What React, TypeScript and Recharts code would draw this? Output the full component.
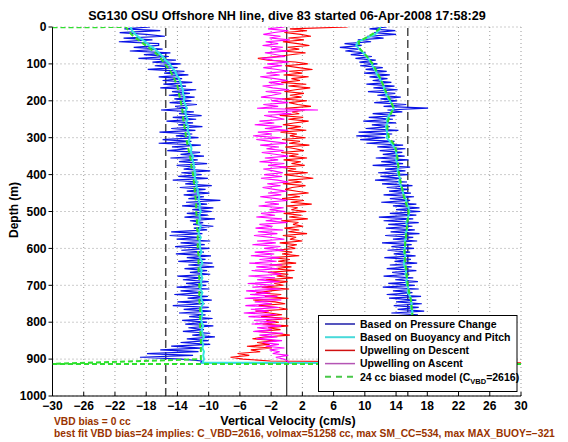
import React from "react";
import { ScatterChart, Scatter, XAxis, YAxis, CartesianGrid, ReferenceLine } from "recharts";

// depth grids (m)
const depth5 = Array.from({ length: 183 }, (_, i) => i * 5);
const depth10 = Array.from({ length: 92 }, (_, i) => i * 10);
const depth20 = Array.from({ length: 46 }, (_, i) => i * 20);

const xTicks = [-30, -26, -22, -18, -14, -10, -6, -2, 2, 6, 10, 14, 18, 22, 26, 30];
const yTicks = [0, 100, 200, 300, 400, 500, 600, 700, 800, 900, 1000];

// vertical velocity from pressure change, descent (every 5 m)
const pressureDown = [
  -17.5, -20.8, -16.2, -21.4, -18.0, -15.6, -20.9, -17.2, -21.5, -16.4,
  -16.4, -19.6, -15.9, -20.1, -14.9, -18.3, -15.1, -19.0, -14.2, -17.2,
  -13.6, -16.9, -14.0, -17.8, -13.1, -15.7, -12.6, -16.4, -13.4, -15.9,
  -12.1, -15.8, -12.9, -16.2, -11.6, -14.7, -12.4, -15.1, -11.8, -14.4,
  -12.2, -15.0, -11.5, -14.3, -12.7, -16.1, -11.9, -13.8, -10.9, -14.6,
  -11.6, -15.4, -12.0, -13.9, -10.8, -14.8, -11.7, -16.3, -12.1, -14.2,
  -11.3, -15.9, -12.2, -16.4, -11.0, -14.7, -12.6, -15.3, -11.1, -13.6,
  -10.6, -14.9, -11.4, -13.8, -10.2, -14.1, -11.7, -13.2, -9.8, -13.5,
  -10.9, -13.9, -10.1, -14.6, -11.3, -13.0, -9.6, -13.7, -10.4, -12.8,
  -9.9, -13.2, -10.6, -12.6, -8.5, -12.9, -10.2, -13.4, -9.4, -12.1,
  -9.6, -12.8, -10.1, -13.1, -9.2, -12.4, -10.7, -12.0, -9.4, -11.9,
  -10.2, -14.8, -10.8, -15.0, -11.1, -14.1, -9.8, -13.6, -10.5, -14.3,
  -9.9, -13.5, -10.6, -14.2, -9.7, -12.8, -10.4, -13.9, -9.5, -12.6,
  -9.3, -13.1, -10.2, -12.4, -9.8, -14.0, -10.9, -13.3, -10.0, -12.9,
  -10.3, -14.1, -9.9, -13.6, -10.8, -14.4, -10.1, -12.7, -9.6, -14.0,
  -10.5, -14.6, -10.0, -13.2, -9.7, -13.8, -10.4, -12.5, -9.5, -13.4,
  -10.2, -13.0, -9.4, -12.6, -10.6, -13.3, -9.8, -12.1, -9.2, -12.8,
  -10.0, -13.6, -9.8, -14.8, -10.9, -16.2, -11.3, -17.9, -12.0, -18.8,
  -13.5, -10.9, -11.0,
];

// vertical velocity from pressure change, ascent (every 5 m)
const pressureUp = [
  12.8, 10.6, 13.9, 11.2, 14.0, 10.3, 12.4, 9.1, 10.8, 7.4,
  9.6, 6.8, 9.2, 7.5, 10.1, 8.2, 10.9, 8.8, 11.4, 9.3,
  11.6, 9.4, 12.3, 10.1, 12.8, 9.9, 13.2, 10.6, 12.9, 11.0,
  13.4, 10.2, 13.8, 11.1, 14.2, 10.4, 13.9, 11.6, 14.6, 12.0,
  14.1, 11.2, 15.3, 12.4, 18.1, 12.9, 14.8, 11.0, 13.9, 10.5,
  13.6, 9.8, 14.0, 10.9, 13.2, 10.1, 14.3, 9.2, 13.5, 8.9,
  12.6, 9.4, 13.8, 10.2, 14.9, 11.6, 15.2, 11.9, 14.8, 12.3,
  15.1, 11.4, 15.6, 12.1, 14.9, 11.0, 15.8, 12.6, 15.2, 11.7,
  15.5, 12.0, 14.7, 11.3, 15.4, 12.2, 16.1, 12.8, 15.6, 13.1,
  15.9, 12.4, 16.3, 13.2, 15.8, 12.1, 16.6, 13.6, 17.0, 14.0,
  17.1, 13.2, 16.6, 11.8, 16.2, 12.4, 16.9, 13.0, 16.1, 12.7,
  16.4, 13.3, 17.0, 12.6, 16.2, 13.6, 16.7, 12.2, 16.0, 13.4,
  16.3, 12.9, 15.8, 13.7, 16.5, 12.5, 15.9, 13.8, 16.7, 13.2,
  16.0, 12.8, 16.6, 13.5, 15.7, 12.4, 16.2, 13.9, 16.8, 13.0,
  16.4, 12.3, 16.9, 13.6, 16.1, 12.8, 17.2, 13.1, 16.6, 14.0,
  17.3, 13.7, 16.9, 14.2, 17.6, 13.4, 16.8, 14.5, 17.4, 13.9,
  17.1, 14.3, 17.5, 13.8, 16.9, 14.6, 17.7, 14.1, 17.2, 14.8,
  17.6, 14.2, 17.9, 14.9, 17.3, 14.4, 18.1, 15.0, 17.5, 14.6,
  17.2, 16.0, 16.5,
];

// based on buoyancy and pitch (every 10 m)
const buoyDown = [
  -20.0, -19.8, -19.4, -18.8, -18.1, -17.6, -16.9, -16.4, -15.9, -15.5,
  -15.0, -14.7, -14.3, -14.1, -13.8, -13.6, -13.5, -13.3, -13.3, -13.1,
  -13.2, -13.0, -12.8, -13.0, -12.9, -12.7, -12.9, -12.6, -12.7, -12.5,
  -12.4, -12.6, -12.3, -12.2, -12.3, -12.0, -12.1, -11.9, -11.9, -11.8,
  -11.7, -11.8, -11.5, -11.6, -11.4, -11.4, -11.2, -11.3, -11.1, -11.2,
  -11.0, -11.2, -11.1, -11.4, -11.0, -11.2, -11.3, -11.0, -11.2, -11.1,
  -11.1, -10.9, -11.2, -11.0, -10.8, -11.1, -10.9, -11.0, -10.8, -11.0,
  -10.9, -11.1, -10.8, -11.0, -10.9, -10.7, -11.0, -10.9, -10.8, -11.0,
  -10.9, -10.7, -10.9, -10.8, -10.6, -10.9, -10.7, -10.8, -10.6, -10.7,
  -10.6, -10.8,
];
const buoyUp = [
  12.0, 11.8, 11.3, 10.2, 9.1, 8.9, 9.3, 9.8, 10.2, 10.6,
  10.9, 11.1, 11.4, 11.6, 11.9, 12.2, 12.4, 12.5, 12.7, 12.9,
  13.2, 13.5, 13.7, 13.4, 13.1, 12.8, 12.9, 12.7, 12.8, 12.9,
  12.8, 13.2, 13.6, 13.9, 14.0, 14.1, 14.0, 14.2, 14.3, 14.2,
  14.3, 14.5, 14.4, 14.6, 14.8, 14.9, 15.1, 15.3, 15.4, 15.6,
  15.7, 15.6, 15.5, 15.3, 15.4, 15.4, 15.2, 15.3, 15.1, 15.2,
  15.1, 15.0, 15.2, 15.1, 15.0, 15.1, 15.3, 15.2, 15.4, 15.3,
  15.4, 15.6, 15.5, 15.8, 15.9, 16.0, 15.9, 16.1, 16.0, 16.2,
  16.0, 16.1, 16.3, 16.2, 16.4, 16.3, 16.4, 16.5, 16.4, 16.6,
  16.5, 16.5,
];

// upwelling on descent (every 5 m)
const upwellDown = [
  7.8, 0.4, 2.6, -0.3, 1.8, 3.1, 0.2, 2.2, -0.5, 1.4,
  2.9, 0.1, 1.6, -0.6, 2.4, 0.5, -1.2, -3.7, -2.4, 1.1,
  2.7, -0.2, 1.5, 3.3, 0.3, 2.0, -0.4, 2.8, 0.6, 1.7,
  -0.7, 2.5, 0.2, 3.0, 1.1, -0.3, 2.2, 0.4, 1.9, -0.6,
  2.6, 0.3, 1.4, 3.1, -0.2, 2.3, 0.7, 1.6, -0.9, 2.1,
  0.2, 2.8, 0.9, -0.5, 1.8, 0.1, 2.5, -0.8, 1.3, 0.4,
  2.4, -0.6, 1.7, 0.3, 2.9, -0.2, 1.1, 2.2, -0.7, 1.5,
  0.3, 2.6, -0.4, 1.8, 0.6, 2.3, -0.9, 1.2, 0.1, 2.7,
  -0.3, 1.6, 3.4, 0.2, 1.9, -0.5, 2.4, 0.7, -0.2, 1.3,
  2.8, 0.1, 1.7, -0.6, 2.2, 0.5, 3.2, -0.1, 1.4, 0.6,
  2.5, -0.4, 1.9, 0.3, 2.7, -0.7, 1.5, 0.8, 2.1, -0.3,
  1.6, 0.2, 2.6, -0.5, 1.2, 0.4, 2.0, -0.9, 1.3, 0.1,
  1.1, -1.4, 0.7, -0.6, 1.6, -1.9, 0.4, -1.1, 1.2, -2.2,
  0.6, -1.7, 1.0, -2.4, 0.2, -1.3, 0.8, -2.7, 0.1, -1.6,
  -0.4, -3.2, 0.3, -2.1, -3.9, -0.7, -2.8, 0.2, -4.3, -1.5,
  -0.2, -3.6, -1.1, 0.1, -4.0, -2.2, -0.6, -3.3, 0.3, -2.6,
  -1.0, -3.1, 0.2, -2.4, -0.8, -3.7, -1.5, 0.4, -2.9, -4.4,
  -1.3, -3.8, -2.2, -5.1, -1.9, -4.6, -3.4, -6.3, -4.8, -7.2,
  -5.6, -2.1, 30,
];

// upwelling on ascent (every 5 m)
const upwellUp = [
  -0.3, -2.4, 0.2, -1.6, -3.0, -0.8, -2.2, 0.4, -2.7, -1.1,
  -3.1, -0.5, -2.0, 0.1, -2.8, -1.3, -0.2, -3.2, -1.7, 0.3,
  -2.5, -0.6, -3.0, -1.2, 0.2, -2.6, -0.9, -3.4, -1.5, 0.1,
  -2.3, -0.4, -3.1, -1.8, 0.3, -2.7, -0.7, -1.9, -3.3, -0.2,
  -2.0, 0.2, -3.0, -1.1, -3.8, 4.0, -2.4, 0.6, -2.9, -1.4,
  -0.3, -3.5, -1.6, -4.1, -0.6, -2.8, 0.2, -3.7, -1.9, -4.3,
  -0.8, -3.9, -2.1, 0.1, -3.4, -1.0, -2.6, -0.4, -3.2, -1.5,
  0.2, -2.8, -1.1, -3.5, -0.3, -2.4, 0.1, -3.0, -1.7, -0.5,
  -2.9, -0.6, -3.3, -1.2, 0.2, -2.5, -0.8, -3.1, -1.6, 0.0,
  -2.4, -0.7, -3.4, -1.3, 0.1, -2.8, -1.0, -3.6, -0.4, -2.2,
  -0.2, -3.3, -1.5, -3.9, -0.6, -2.7, 0.1, -3.5, -1.8, -4.0,
  -0.5, -3.7, -1.2, -4.2, -2.0, -0.3, -3.8, -1.4, -4.4, -0.8,
  -2.9, -0.4, -4.1, -1.6, -4.6, -0.9, -3.5, -1.3, -4.8, -0.6,
  -3.9, -1.1, -4.5, -2.0, -0.7, -4.9, -1.5, -3.8, -0.9, -5.0,
  -1.6, -4.4, -0.8, -5.2, -2.1, -4.7, -1.2, -5.4, -0.7, -4.1,
  -1.9, -5.3, -1.0, -4.6, -2.3, -5.5, -1.3, -4.9, -0.6, -4.2,
  -1.4, -4.5, -0.7, -3.8, -1.9, -4.3, -0.5, -3.5, -1.2, -3.9,
  -0.6, -3.1, -1.0, -2.7, -0.3, -2.2, -0.9, -1.8, 0.2, -1.4,
  -0.4, 0.1, 0.3,
];

// 24 cc biased model (every 20 m)
const modelDown = [
  -20.6, -19.9, -18.7, -17.4, -16.3, -15.6, -14.9, -14.4, -14.0, -13.8,
  -13.6, -13.4, -13.3, -13.2, -13.0, -12.9, -12.7, -12.5, -12.3, -12.2,
  -12.0, -11.9, -11.8, -11.7, -11.6, -11.6, -11.5, -11.5, -11.4, -11.4,
  -11.4, -11.3, -11.3, -11.3, -11.2, -11.2, -11.2, -11.2, -11.1, -11.1,
  -11.1, -11.1, -11.0, -11.0, -11.0, -11.0,
];
const modelUp = [
  12.2, 10.9, 9.2, 9.4, 10.3, 11.0, 11.5, 12.0, 12.4, 12.8,
  13.3, 13.7, 13.2, 12.9, 12.9, 13.1, 13.8, 14.1, 14.2, 14.3,
  14.4, 14.6, 14.8, 15.0, 15.3, 15.6, 15.5, 15.4, 15.3, 15.2,
  15.1, 15.1, 15.2, 15.3, 15.4, 15.5, 15.7, 15.9, 16.0, 16.1,
  16.1, 16.2, 16.3, 16.4, 16.5, 16.5,
];
// model turnaround at surface and at apogee
const modelSurface = { v: -30, d: 1 };
const modelApogee = [{ v: -30, d: 913 }, { v: 30, d: 913 }];

const pts = (vals: number[], depths: number[]) => vals.map((v, i) => ({ v, d: depths[i] }));

const pressurePath = [...pts(pressureDown, depth5), ...pts(pressureUp, depth5).reverse()];
const buoyPath = [...pts(buoyDown, depth10), ...pts(buoyUp, depth10).reverse()];
const upwellDownPath = pts(upwellDown, depth5);
const upwellUpPath = pts(upwellUp, depth5);
const modelPath = [modelSurface, ...pts(modelDown, depth20), ...modelApogee, ...pts(modelUp, depth20).reverse()];

const FONT = "'Liberation Sans', Arial, Helvetica, sans-serif";
const tickStyle = { fontFamily: FONT, fontWeight: 700, fontSize: 12, fill: "#000" };
const minus = (v: number) => (v < 0 ? "\u2212" + Math.abs(v) : String(v));
const noDot = () => <g />;

const legendItems = [
  { label: "Based on Pressure Change", color: "#1c1ca8", dash: undefined, width: 1.5 },
  { label: "Based on Buoyancy and Pitch", color: "#48dada", dash: undefined, width: 2 },
  { label: "Upwelling on Descent", color: "#d01010", dash: undefined, width: 1.5 },
  { label: "Upwelling on Ascent", color: "#b455b4", dash: undefined, width: 1.5 },
  { label: "24 cc biased model (C", color: "#48c848", dash: "6 5", width: 2 },
];

export default function App() {
  return (
    <div style={{ position: "relative", width: 568, height: 442, background: "#fff" }}>
      <style>{`body{margin:0}`}</style>
      <ScatterChart width={568} height={442} margin={{ top: 27, right: 47, bottom: 16, left: 0 }}>
        <CartesianGrid stroke="#9a9a9a" strokeDasharray="1 3" />
        <XAxis
          type="number"
          dataKey="v"
          domain={[-30, 30]}
          ticks={xTicks}
          allowDataOverflow
          interval={0}
          height={30}
          tickSize={-4}
          tickMargin={9}
          tickFormatter={minus}
          tick={tickStyle}
          stroke="#000"
        />
        <XAxis
          xAxisId="top"
          orientation="top"
          type="number"
          domain={[-30, 30]}
          ticks={xTicks}
          allowDataOverflow
          height={0}
          tickSize={-4}
          tickFormatter={() => ""}
          stroke="#000"
        />
        <YAxis
          type="number"
          dataKey="d"
          domain={[0, 1000]}
          reversed
          ticks={yTicks}
          allowDataOverflow
          interval={0}
          width={52.5}
          tickSize={4}
          tickMargin={2}
          tick={tickStyle}
          stroke="#000"
        />
        <YAxis
          yAxisId="right"
          orientation="right"
          type="number"
          domain={[0, 1000]}
          reversed
          ticks={yTicks}
          allowDataOverflow
          width={0}
          tickSize={-4}
          tickFormatter={() => ""}
          stroke="#000"
        />
        <Scatter data={pressurePath} fill="#0a14e6" line={{ stroke: "#0a14e6", strokeWidth: 1.2 }} lineType="joint" shape={noDot} isAnimationActive={false} />
        <Scatter data={buoyPath} fill="#33e6e0" line={{ stroke: "#33e6e0", strokeWidth: 2 }} lineType="joint" shape={noDot} isAnimationActive={false} />
        <Scatter data={upwellDownPath} fill="#ff0000" line={{ stroke: "#ff0000", strokeWidth: 1.1 }} lineType="joint" shape={noDot} isAnimationActive={false} />
        <Scatter data={upwellUpPath} fill="#ff00ff" line={{ stroke: "#ff00ff", strokeWidth: 1.1 }} lineType="joint" shape={noDot} isAnimationActive={false} />
        <Scatter data={modelPath} fill="#2fe02f" line={{ stroke: "#2fe02f", strokeWidth: 2, strokeDasharray: "5 3" }} lineType="joint" shape={noDot} isAnimationActive={false} />
        <ReferenceLine x={-15.5} stroke="#4a4a4a" strokeWidth={1.5} strokeDasharray="8 4" />
        <ReferenceLine x={15.5} stroke="#4a4a4a" strokeWidth={1.5} strokeDasharray="8 4" />
        <ReferenceLine x={0} stroke="#000" strokeWidth={1} />
      </ScatterChart>

      <svg width={568} height={442} style={{ position: "absolute", left: 0, top: 0, pointerEvents: "none" }}>
        <text x={287} y={19.5} textAnchor="middle" fontFamily={FONT} fontWeight={700} fontSize={12.6}>
          SG130 OSU Offshore NH line, dive 83 started 06-Apr-2008 17:58:29
        </text>
        <text x={288} y={424.5} textAnchor="middle" fontFamily={FONT} fontWeight={700} fontSize={12.5}>
          Vertical Velocity (cm/s)
        </text>
        <text x={17.5} y={210} textAnchor="middle" fontFamily={FONT} fontWeight={700} fontSize={12} transform="rotate(-90 17.5 210)">
          Depth (m)
        </text>
        <text x={54} y={425} fontFamily={FONT} fontWeight={700} fontSize={10.25} fill="#993300">
          VBD bias = 0 cc
        </text>
        <text x={54} y={437} fontFamily={FONT} fontWeight={700} fontSize={10.25} fill="#993300">
          best fit VBD bias=24 implies: C_VBD=2616, volmax=51258 cc, max SM_CC=534, max MAX_BUOY=−321
        </text>

        <rect x={318.5} y={315.5} width={198.5} height={76} fill="#fff" stroke="#000" strokeWidth={1} />
        {legendItems.map((it, i) => {
          const y = 324 + i * 13.2;
          return (
            <g key={it.label}>
              <line x1={325} x2={355} y1={y} y2={y} stroke={it.color} strokeWidth={it.width} strokeDasharray={it.dash} />
              <text x={360} y={y + 3.8} fontFamily={FONT} fontWeight={700} fontSize={10.5}>
                {it.label}
                {i === 4 && (
                  <>
                    <tspan fontSize={7.5} dy={3}>VBD</tspan>
                    <tspan dy={-3}>=2616)</tspan>
                  </>
                )}
              </text>
            </g>
          );
        })}
      </svg>
    </div>
  );
}
